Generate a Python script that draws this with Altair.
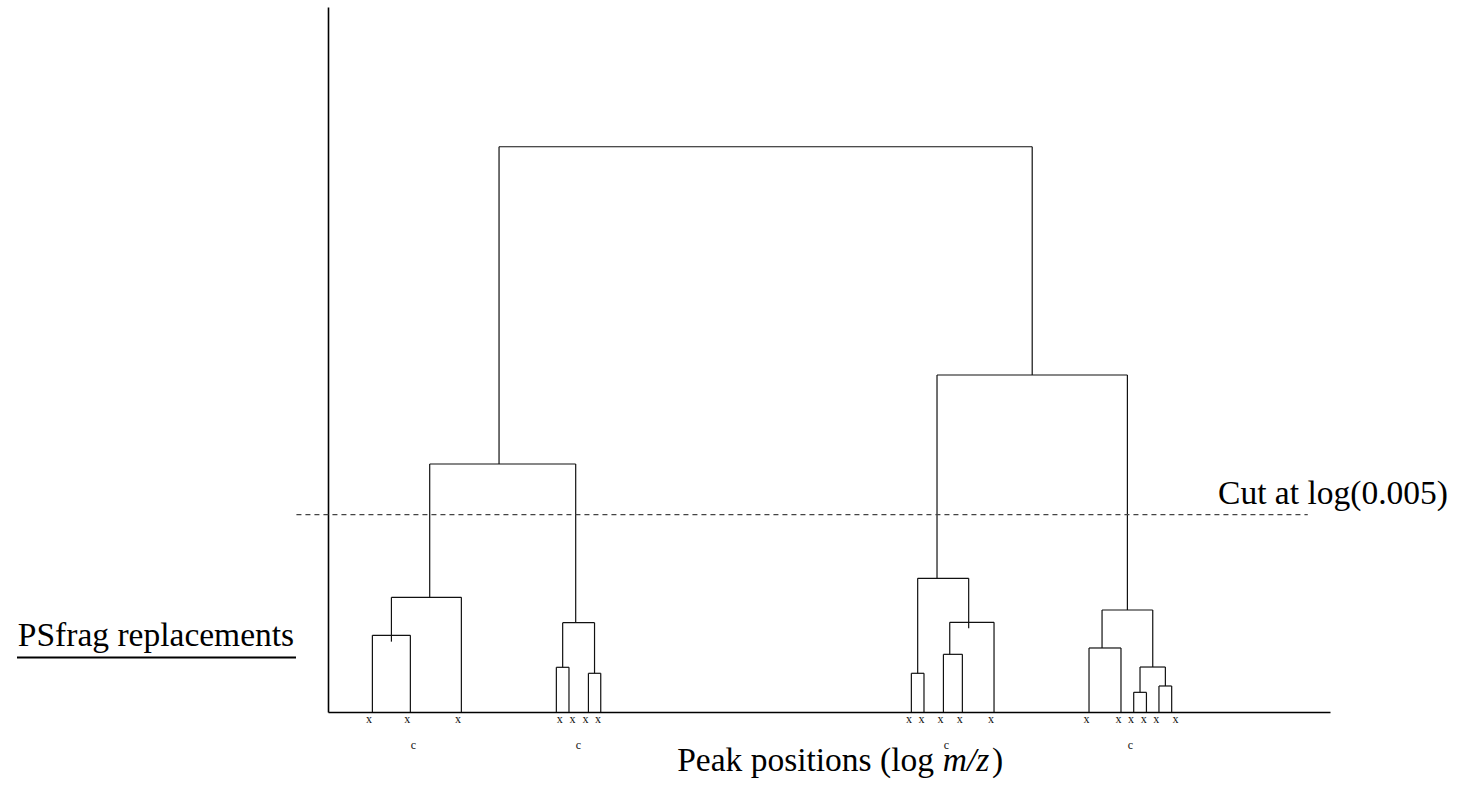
import altair as alt
import pandas as pd

# ---- data (arbitrary units: x 0..100, y 0..100) ----
leaf_pos = [4.43, 8.22, 13.31, 22.79, 24.05, 25.99, 27.22,
            58.22, 59.48, 61.42, 63.31, 66.47,
            75.95, 79.14, 80.41, 81.68, 82.93, 84.20]
# merges create nodes 18, 19, ... in this order
merge_left = [0, 18, 3, 5, 20, 19, 7, 9, 25, 24, 12, 14, 16, 29, 28, 27, 23]
merge_right = [1, 2, 4, 6, 21, 22, 8, 10, 11, 26, 13, 15, 17, 30, 31, 32, 33]
merge_height = [10.88, 16.27, 6.34, 5.49, 12.67, 35.18, 5.49, 8.18, 12.72,
                18.96, 9.08, 2.79, 3.69, 6.38, 14.47, 47.80, 80.18]
merge_pos = [6.33, 10.15, 23.42, 26.60, 24.72, 17.07, 58.85, 62.05, 63.94,
             60.78, 77.25, 81.04, 83.57, 82.31, 79.78, 70.28, 43.68]
# nodes whose incoming leg overshoots a little below the node's bar
overshoot_nodes = [18, 26]
overshoot_amount = [0.9, 0.85]
x_label_pos = [4.09, 7.92, 12.97, 23.12, 24.39, 25.69, 26.95,
               57.98, 59.22, 61.12, 63.04, 66.17,
               75.69, 78.88, 80.14, 81.41, 82.67, 84.57]
c_label_pos = [8.52, 24.99, 61.72, 80.08]
cut_height = 27.99
cut_span = [-3.15, 97.78]

# ---- build segments from the tree ----
node_x = list(leaf_pos) + list(merge_pos)
node_h = [0.0] * len(leaf_pos) + list(merge_height)
over = dict(zip(overshoot_nodes, overshoot_amount))
segs = []
for a, b, h, px in zip(merge_left, merge_right, merge_height, merge_pos):
    segs.append(dict(x=node_x[a], x2=node_x[b], y=h, y2=h))
    for c in (a, b):
        segs.append(dict(x=node_x[c], x2=node_x[c], y=node_h[c] - over.get(c, 0.0), y2=h))
seg_df = pd.DataFrame(segs)

xs = alt.Scale(domain=[0, 100], nice=False, zero=False)
ys = alt.Scale(domain=[0, 100], nice=False, zero=False)
ax = alt.Axis(ticks=False, labels=False, grid=False, title=None,
              domainColor="black", domainWidth=1.6)

tree = alt.Chart(seg_df).mark_rule(color="#111", strokeWidth=1.2).encode(
    x=alt.X("x:Q", scale=xs, axis=ax),
    x2="x2:Q",
    y=alt.Y("y:Q", scale=ys, axis=ax),
    y2="y2:Q",
)

cut_df = pd.DataFrame({"x": [cut_span[0]], "x2": [cut_span[1]], "y": [cut_height]})
cut = alt.Chart(cut_df).mark_rule(color="#444", strokeWidth=1.1, strokeDash=[5, 4]).encode(
    x=alt.X("x:Q", scale=xs), x2="x2:Q", y=alt.Y("y:Q", scale=ys)
)

xl = alt.Chart(pd.DataFrame({"x": x_label_pos, "t": ["x"] * len(x_label_pos)})).mark_text(
    font="Liberation Serif", fontSize=12, baseline="middle", align="center", color="#111"
).encode(x=alt.X("x:Q", scale=xs), y=alt.value(712), text="t:N")

cl = alt.Chart(pd.DataFrame({"x": c_label_pos, "t": ["c"] * len(c_label_pos)})).mark_text(
    font="Liberation Serif", fontSize=12, baseline="middle", align="center", color="#111"
).encode(x=alt.X("x:Q", scale=xs), y=alt.value(738), text="t:N")

one = pd.DataFrame({"a": [0]})
FS = 33.5

cut_text = alt.Chart(one).mark_text(
    font="Liberation Serif", fontSize=FS, align="center", baseline="alphabetic", color="black"
).encode(x=alt.value(1005), y=alt.value(497), text=alt.value("Cut at log(0.005)"))

ps_text = alt.Chart(one).mark_text(
    font="Liberation Serif", fontSize=FS, align="center", baseline="alphabetic", color="black"
).encode(x=alt.value(-172), y=alt.value(639), text=alt.value("PSfrag replacements"))

ps_line = alt.Chart(one).mark_rule(color="black", strokeWidth=1.8).encode(
    x=alt.value(-311), x2=alt.value(-32), y=alt.value(650.5)
)

xt1 = alt.Chart(one).mark_text(
    font="Liberation Serif", fontSize=FS, align="right", baseline="alphabetic", color="black"
).encode(x=alt.value(606), y=alt.value(764), text=alt.value("Peak positions (log"))
xt2 = alt.Chart(one).mark_text(
    font="Liberation Serif", fontSize=FS, fontStyle="italic", align="center",
    baseline="alphabetic", color="black"
).encode(x=alt.value(638), y=alt.value(764), text=alt.value("m/z"))
xt3 = alt.Chart(one).mark_text(
    font="Liberation Serif", fontSize=FS, align="left", baseline="alphabetic", color="black"
).encode(x=alt.value(664), y=alt.value(764), text=alt.value(")"))

chart = alt.layer(tree, cut, xl, cl, cut_text, ps_text, ps_line, xt1, xt2, xt3).properties(
    width=1002, height=705,
    autosize=alt.AutoSizeParams(type="none"),
    padding={"left": 328, "top": 7, "right": 136, "bottom": 73},
).configure(background="white", view=alt.ViewConfig(stroke=None))

chart.save("out.html", embed_options={"renderer": "svg", "actions": False})
